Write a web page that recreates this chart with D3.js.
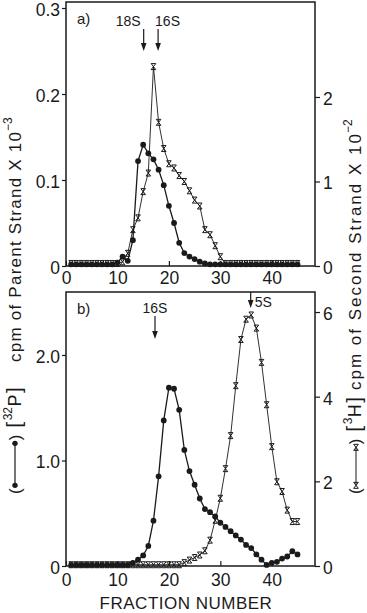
<!DOCTYPE html>
<html>
<head>
<meta charset="utf-8">
<script src="https://cdn.jsdelivr.net/npm/d3@7"></script>
<style>
  body { margin: 0; background: #fff; }
  svg { display: block; font-family: "Liberation Sans", Arial, sans-serif; }
</style>
</head>
<body>
<div id="chart"></div>
<script>
// fraction numbers 1..45
const fractions = d3.range(1, 46)

// panel a) [32P] parent strand (x10^3 cpm) and [3H] second strand (x10^2 cpm)
const parentA = [0.002, 0.002, 0.002, 0.002, 0.002, 0.002, 0.002, 0.002, 0.002, 0.004,
  0.011, 0.006, 0.030, 0.122, 0.141, 0.131, 0.124, 0.112, 0.094, 0.070,
  0.050, 0.027, 0.015, 0.011, 0.008, 0.005, 0.003, 0.002, 0.002, 0.002,
  0.002, 0.002, 0.002, 0.002, 0.002, 0.002, 0.002, 0.002, 0.002, 0.002,
  0.002, 0.002, 0.002, 0.002, 0.002]
const secondA = [0.03, 0.03, 0.03, 0.03, 0.03, 0.03, 0.03, 0.03, 0.03, 0.03,
  0.05, 0.15, 0.43, 0.57, 0.88, 1.10, 2.36, 1.70, 1.39, 1.21,
  1.16, 1.07, 1.00, 0.89, 0.78, 0.71, 0.43, 0.37, 0.24, 0.11,
  0.03, 0.03, 0.03, 0.03, 0.03, 0.03, 0.03, 0.03, 0.03, 0.03,
  0.03, 0.03, 0.03, 0.03, 0.03]

// panel b)
const parentB = [0.01, 0.01, 0.01, 0.01, 0.01, 0.01, 0.01, 0.01, 0.01, 0.01,
  0.01, 0.01, 0.03, 0.06, 0.10, 0.19, 0.43, 0.85, 1.38, 1.69,
  1.68, 1.48, 1.10, 0.90, 0.77, 0.64, 0.54, 0.51, 0.47, 0.41,
  0.37, 0.33, 0.29, 0.25, 0.20, 0.17, 0.11, 0.06, 0.01, 0.03,
  0.04, 0.07, 0.09, 0.14, 0.11]
const secondB = [0.03, 0.03, 0.03, 0.03, 0.03, 0.03, 0.03, 0.03, 0.03, 0.03,
  0.03, 0.03, 0.03, 0.03, 0.03, 0.03, 0.03, 0.03, 0.03, 0.03,
  0.03, 0.03, 0.08, 0.14, 0.20, 0.26, 0.36, 0.61, 1.08, 1.60,
  2.30, 3.08, 4.26, 5.35, 5.83, 5.93, 5.62, 4.81, 3.81, 2.82,
  1.99, 1.76, 1.32, 1.05, 1.05]

// sedimentation markers (fraction position)
const markersA = [{label: "18S", f: 15.1}, {label: "16S", f: 17.9}]
const markersB = [{label: "16S", f: 17.3}, {label: "5S", f: 35.9}]

// tick values
const xTicks = [0, 10, 20, 30, 40]
const leftTicksA = [0, 0.1, 0.2, 0.3]
const rightTicksA = [0, 1, 2]
const leftTicksB = [0, 1.0, 2.0]
const rightTicksB = [0, 2, 4, 6]

const ink = "#1a1a1a"

const svg = d3.select("#chart")
  .append("svg")
    .attr("width", 367)
    .attr("height", 613)

const x = d3.scaleLinear().domain([0, 48.4]).range([66, 315])

function xMark(sel) {
  sel.append("path")
    .attr("d", "M-2.3,-3 L2.3,3 M2.3,-3 L-2.3,3 M-2.3,-3 H2.3 M-2.3,3 H2.3")
    .attr("stroke", ink)
    .attr("stroke-width", 1)
    .attr("fill", "none")
}

function panel(cfg) {
  const yL = d3.scaleLinear().domain([0, cfg.leftMax]).range([cfg.bottom, cfg.top])
  const yR = d3.scaleLinear().domain([0, cfg.rightMax]).range([cfg.bottom, cfg.top])
  const g = svg.append("g")

  // axes
  const left = g.append("g")
    .attr("transform", `translate(${x.range()[0]},0)`)
    .call(d3.axisLeft(yL).tickValues(cfg.leftTicks).tickSize(4).tickPadding(2)
      .tickFormat(d => d === 0 ? "0" : d3.format(".1f")(d)))
  const right = g.append("g")
    .attr("transform", `translate(${x.range()[1]},0)`)
    .call(d3.axisRight(yR).tickValues(cfg.rightTicks).tickSize(5).tickPadding(3).tickFormat(d3.format("d")))
  const bottom = g.append("g")
    .attr("transform", `translate(0,${cfg.bottom})`)
    .call(d3.axisBottom(x).tickValues(xTicks).tickSizeInner(-5).tickSizeOuter(0).tickPadding(cfg.xPad))
  ;[left, right, bottom].forEach(a => {
    a.select(".domain").remove()
    a.selectAll("line").attr("stroke", ink).attr("stroke-width", 1.2)
    a.selectAll("text").attr("font-size", 17.5).attr("fill", ink)
  })
  left.selectAll("text").attr("dy", "0.42em")
  right.selectAll("text").attr("dy", "0.42em")

  // frame
  g.append("rect")
    .attr("x", x.range()[0]).attr("y", cfg.top)
    .attr("width", x.range()[1] - x.range()[0])
    .attr("height", cfg.bottom - cfg.top)
    .attr("fill", "none").attr("stroke", ink).attr("stroke-width", 1.5)

  const pData = fractions.map((f, i) => ({f, v: cfg.parent[i]}))
  const sData = fractions.map((f, i) => ({f, v: cfg.second[i]}))

  // second strand
  g.append("path")
    .datum(sData)
    .attr("fill", "none").attr("stroke", ink).attr("stroke-width", 0.9)
    .attr("d", d3.line().x(d => x(d.f)).y(d => yR(d.v)))
  g.selectAll(null)
    .data(sData)
    .join("g")
      .attr("transform", d => `translate(${x(d.f)},${yR(d.v)})`)
      .call(xMark)

  // parent strand
  g.append("path")
    .datum(pData)
    .attr("fill", "none").attr("stroke", ink).attr("stroke-width", 1.3)
    .attr("d", d3.line().x(d => x(d.f)).y(d => yL(d.v)))
  g.selectAll(null)
    .data(pData)
    .join("circle")
      .attr("cx", d => x(d.f))
      .attr("cy", d => yL(d.v))
      .attr("r", 2.9)
      .attr("fill", ink)

  // panel letter
  g.append("text")
    .attr("x", 77).attr("y", cfg.top + 22)
    .attr("font-size", 15).attr("fill", ink)
    .text(cfg.letter)

  // sedimentation arrows
  cfg.markers.forEach((m, i) => {
    const a = cfg.arrows[i]
    const ax = x(m.f)
    g.append("line")
      .attr("x1", ax).attr("x2", ax)
      .attr("y1", a.y1).attr("y2", a.y2 - 6)
      .attr("stroke", ink).attr("stroke-width", 1.2)
    g.append("path")
      .attr("d", `M${ax - 2.8},${a.y2 - 8} L${ax + 2.8},${a.y2 - 8} L${ax},${a.y2} Z`)
      .attr("fill", ink)
    g.append("text")
      .attr("x", ax + a.dx).attr("y", a.ty)
      .attr("text-anchor", a.anchor)
      .attr("font-size", 14).attr("fill", ink)
      .text(m.label)
  })
}

panel({
  top: 2, bottom: 266, leftMax: 0.307, rightMax: 3.124, xPad: 6,
  leftTicks: leftTicksA, rightTicks: rightTicksA,
  parent: parentA, second: secondA, letter: "a)",
  markers: markersA,
  arrows: [
    {y1: 29, y2: 51, ty: 26, dx: -3, anchor: "end"},
    {y1: 29, y2: 51, ty: 26, dx: -3, anchor: "start"}
  ]
})

panel({
  top: 292, bottom: 566, leftMax: 2.597, rightMax: 6.473, xPad: 8,
  leftTicks: leftTicksB, rightTicks: rightTicksB,
  parent: parentB, second: secondB, letter: "b)",
  markers: markersB,
  arrows: [
    {y1: 316, y2: 339, ty: 313, dx: 0, anchor: "middle"},
    {y1: 292, y2: 308, ty: 307, dx: 4, anchor: "start"}
  ]
})

// rotated axis titles; the main phrase is stretched to the span it has in the original
function sideTitle(px, startY, drawSymbol, symLen, iso, el, main, mainStart, mainLen, exp) {
  const g = svg.append("g")
    .attr("transform", `translate(${px},${startY}) rotate(-90)`)
    .attr("fill", ink)
  let u = 0
  const put = (str, size, dy) => {
    const t = g.append("text").attr("x", u).attr("y", dy || 0)
      .attr("font-size", size).text(str)
    u += t.node().getComputedTextLength()
    return t
  }
  put("(", 17)
  u += 3
  drawSymbol(g, u, u + symLen)
  u += symLen + 3
  put(")", 17)
  u += 7
  put("[", 21)
  u += 1.5
  put(iso, 12, -9)
  u += 0.5
  put(el, 18)
  u += 1.5
  put("]", 21)
  u = mainStart
  put(main, 17).attr("textLength", mainLen).attr("lengthAdjust", "spacing")
  u = mainStart + mainLen + 1
  put(exp, 12, -9)
}

sideTitle(21, 494, (g, u0, u1) => {
  g.append("line").attr("x1", u0).attr("x2", u1).attr("y1", -6).attr("y2", -6)
    .attr("stroke", ink).attr("stroke-width", 1.2)
  g.selectAll(null).data([u0, u1]).join("circle")
    .attr("cx", d => d).attr("cy", -6).attr("r", 2.7).attr("fill", ink)
}, 42, "32", "P", "cpm of Parent Strand X 10", 132, 230, "−3")

sideTitle(361, 494, (g, u0, u1) => {
  g.append("line").attr("x1", u0).attr("x2", u1).attr("y1", -5).attr("y2", -5)
    .attr("stroke", ink).attr("stroke-width", 1)
  g.selectAll(null).data([u0, u1]).join("g")
    .attr("transform", d => `translate(${d},-5) rotate(90)`)
    .call(xMark)
}, 38, "3", "H", "cpm of Second Strand X 10", 104, 256, "−2")

svg.append("text")
  .attr("x", 186).attr("y", 609)
  .attr("text-anchor", "middle")
  .attr("font-size", 17).attr("fill", ink)
  .attr("letter-spacing", 0.5)
  .text("FRACTION NUMBER")
</script>
</body>
</html>
